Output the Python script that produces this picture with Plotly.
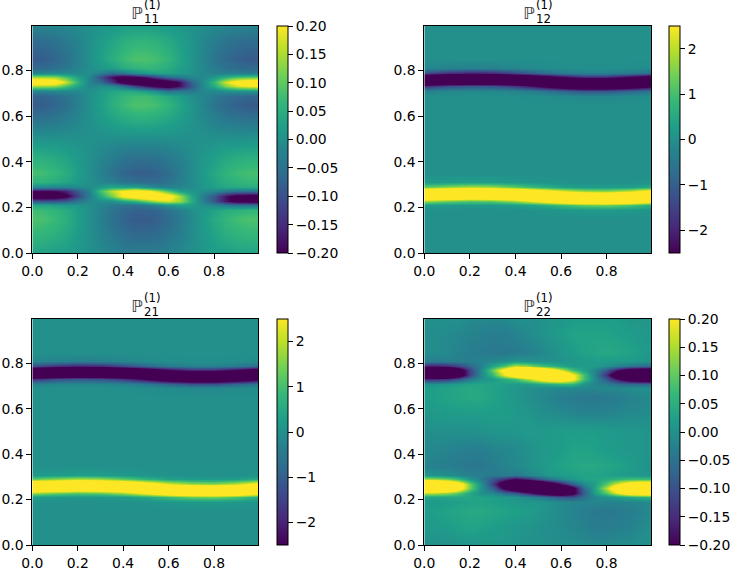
import plotly.graph_objects as go

# grid coordinates (cell centres)
X21 = [0.0, 0.05, 0.1, 0.15, 0.2, 0.25, 0.3, 0.35, 0.4, 0.45, 0.5,
       0.55, 0.6, 0.65, 0.7, 0.75, 0.8, 0.85, 0.9, 0.95, 1.0]
X11 = [0.0, 0.1, 0.2, 0.3, 0.4, 0.5, 0.6, 0.7, 0.8, 0.9, 1.0]
Y = [0.0, 0.07, 0.15, 0.19, 0.21, 0.23, 0.25, 0.27, 0.29, 0.31, 0.35, 0.42, 0.5,
     0.58, 0.65, 0.69, 0.71, 0.73, 0.75, 0.77, 0.79, 0.81, 0.85, 0.93, 1.0]

# P11, rows follow Y, columns follow X21
P11 = [
    [0.03, 0.03, 0.02, 0.02, 0.01, 0.0, -0.01, -0.02, -0.03, -0.03, -0.03, -0.03, -0.02, -0.01, 0.0, 0.01, 0.02, 0.02, 0.03, 0.03, 0.03],
    [0.06, 0.057, 0.048, 0.036, 0.018, 0.0, -0.018, -0.036, -0.051, -0.06, -0.06, -0.054, -0.042, -0.024, -0.006, 0.012, 0.03, 0.045, 0.054, 0.06, 0.06],
    [0.085, 0.081, 0.068, 0.051, 0.026, 0.0, -0.026, -0.051, -0.072, -0.085, -0.085, -0.077, -0.06, -0.034, -0.009, 0.017, 0.043, 0.064, 0.077, 0.085, 0.085],
    [0.075, 0.071, 0.06, 0.045, 0.023, 0.0, -0.023, -0.045, -0.064, -0.075, -0.075, -0.068, -0.048, -0.024, -0.003, 0.013, 0.032, 0.046, 0.055, 0.061, 0.061],
    [0.038, 0.035, 0.026, 0.018, 0.009, -0.002, -0.018, -0.036, -0.045, -0.053, -0.039, -0.02, 0.007, 0.025, 0.02, 0.0, -0.012, -0.031, -0.043, -0.044, -0.044],
    [-0.093, -0.096, -0.096, -0.081, -0.045, -0.014, -0.001, 0.0, 0.04, 0.06, 0.11, 0.16, 0.18, 0.14, 0.052, -0.023, -0.093, -0.175, -0.228, -0.239, -0.239],
    [-0.27, -0.273, -0.262, -0.216, -0.118, -0.029, 0.042, 0.12, 0.21, 0.26, 0.3, 0.29, 0.24, 0.14, 0.039, -0.023, -0.093, -0.175, -0.228, -0.239, -0.239],
    [-0.195, -0.198, -0.192, -0.159, -0.087, -0.023, 0.08, 0.16, 0.21, 0.25, 0.22, 0.16, 0.09, 0.027, 0.007, -0.001, -0.015, -0.035, -0.048, -0.049, -0.049],
    [-0.011, -0.014, -0.019, -0.019, -0.011, -0.006, 0.018, 0.041, 0.029, 0.036, 0.007, -0.015, -0.022, -0.018, -0.005, 0.01, 0.024, 0.035, 0.041, 0.046, 0.046],
    [0.058, 0.055, 0.046, 0.034, 0.017, 0.0, -0.014, -0.025, -0.045, -0.053, -0.059, -0.059, -0.046, -0.026, -0.007, 0.013, 0.033, 0.049, 0.059, 0.065, 0.065],
    [0.08, 0.076, 0.064, 0.048, 0.024, 0.0, -0.024, -0.048, -0.068, -0.08, -0.08, -0.072, -0.056, -0.032, -0.008, 0.016, 0.04, 0.06, 0.072, 0.08, 0.08],
    [0.05, 0.048, 0.04, 0.03, 0.015, 0.0, -0.015, -0.03, -0.043, -0.05, -0.05, -0.045, -0.035, -0.02, -0.005, 0.01, 0.025, 0.038, 0.045, 0.05, 0.05],
    [0.005, 0.005, 0.004, 0.003, 0.002, 0.0, -0.002, -0.003, -0.004, -0.005, -0.005, -0.004, -0.003, -0.002, 0.0, 0.001, 0.002, 0.003, 0.004, 0.005, 0.005],
    [-0.045, -0.043, -0.036, -0.027, -0.014, 0.0, 0.014, 0.027, 0.038, 0.045, 0.045, 0.041, 0.032, 0.018, 0.005, -0.009, -0.023, -0.034, -0.041, -0.045, -0.045],
    [-0.085, -0.081, -0.068, -0.051, -0.026, 0.0, 0.026, 0.051, 0.072, 0.085, 0.085, 0.077, 0.06, 0.034, 0.009, -0.017, -0.043, -0.064, -0.077, -0.085, -0.085],
    [-0.075, -0.071, -0.06, -0.045, -0.023, 0.0, 0.023, 0.045, 0.064, 0.075, 0.075, 0.062, 0.042, 0.022, 0.0, -0.015, -0.036, -0.052, -0.062, -0.068, -0.068],
    [-0.021, -0.019, -0.013, -0.013, -0.01, -0.003, 0.018, 0.035, 0.044, 0.039, 0.022, -0.008, -0.044, -0.038, -0.038, -0.013, -0.012, -0.003, 0.004, 0.006, 0.009],
    [0.144, 0.141, 0.132, 0.084, 0.03, -0.012, -0.003, -0.006, -0.05, -0.11, -0.17, -0.22, -0.24, -0.18, -0.091, -0.012, 0.045, 0.12, 0.171, 0.195, 0.203],
    [0.28, 0.273, 0.252, 0.164, 0.062, -0.02, -0.057, -0.14, -0.24, -0.3, -0.32, -0.3, -0.25, -0.18, -0.069, -0.012, 0.067, 0.168, 0.237, 0.27, 0.28],
    [0.144, 0.141, 0.132, 0.084, 0.03, -0.012, -0.1, -0.19, -0.24, -0.22, -0.17, -0.11, -0.06, -0.04, -0.015, -0.012, 0.015, 0.054, 0.081, 0.093, 0.098],
    [-0.016, -0.014, -0.009, -0.01, -0.008, -0.003, -0.027, -0.054, -0.039, -0.007, 0.017, 0.028, 0.031, 0.016, 0.004, -0.012, -0.022, -0.027, -0.03, -0.033, -0.032],
    [-0.065, -0.062, -0.052, -0.039, -0.02, 0.0, 0.012, 0.023, 0.044, 0.059, 0.065, 0.059, 0.046, 0.026, 0.007, -0.013, -0.033, -0.049, -0.059, -0.065, -0.065],
    [-0.085, -0.081, -0.068, -0.051, -0.026, 0.0, 0.026, 0.051, 0.072, 0.085, 0.085, 0.077, 0.06, 0.034, 0.009, -0.017, -0.043, -0.064, -0.077, -0.085, -0.085],
    [-0.06, -0.057, -0.048, -0.036, -0.018, 0.0, 0.018, 0.036, 0.051, 0.06, 0.06, 0.054, 0.042, 0.024, 0.006, -0.012, -0.03, -0.045, -0.054, -0.06, -0.06],
    [-0.02, -0.019, -0.016, -0.012, -0.006, 0.0, 0.006, 0.012, 0.017, 0.02, 0.02, 0.018, 0.014, 0.008, 0.002, -0.004, -0.01, -0.015, -0.018, -0.02, -0.02],
]

# P12, rows follow Y, columns follow X11
P12 = [
    [0.0, 0.0, 0.0, 0.0, 0.0, 0.0, 0.0, 0.0, 0.0, 0.0, 0.0],
    [0.0, 0.0, 0.0, 0.0, 0.0, 0.0, 0.0, 0.0, 0.0, 0.0, 0.0],
    [0.0, 0.0, 0.0, 0.0, 0.0, 0.0, 0.0, 0.0, 0.0, 0.0, 0.0],
    [0.01, 0.0, 0.0, 0.0, 0.01, 0.05, 0.12, 0.17, 0.19, 0.14, 0.06],
    [0.26, 0.19, 0.16, 0.17, 0.26, 0.5, 0.92, 1.3, 1.4, 1.1, 0.6],
    [1.78, 1.4, 1.2, 1.3, 1.78, 2.68, 3.64, 4.22, 4.36, 3.94, 3.0],
    [4.66, 4.36, 4.08, 4.22, 4.66, 4.96, 4.92, 4.66, 4.58, 4.82, 5.0],
    [4.22, 4.58, 4.74, 4.66, 4.22, 3.32, 2.36, 1.78, 1.64, 2.06, 3.0],
    [1.3, 1.64, 1.92, 1.78, 1.3, 0.76, 0.4, 0.26, 0.23, 0.32, 0.6],
    [0.17, 0.23, 0.29, 0.26, 0.17, 0.09, 0.04, 0.01, 0.01, 0.02, 0.06],
    [0.0, 0.0, 0.0, 0.0, 0.0, 0.0, 0.0, 0.0, 0.0, 0.0, 0.0],
    [0.0, 0.0, 0.0, 0.0, 0.0, 0.0, 0.0, 0.0, 0.0, 0.0, 0.0],
    [0.0, 0.0, 0.0, 0.0, 0.0, 0.0, 0.0, 0.0, 0.0, 0.0, 0.0],
    [0.0, 0.0, 0.0, 0.0, 0.0, 0.0, 0.0, 0.0, 0.0, 0.0, 0.0],
    [0.0, 0.0, 0.0, 0.0, 0.0, 0.0, 0.0, 0.0, 0.0, 0.0, 0.0],
    [-0.01, 0.0, 0.0, 0.0, -0.01, -0.04, -0.1, -0.16, -0.16, -0.1, -0.05],
    [-0.26, -0.17, -0.14, -0.16, -0.23, -0.45, -0.84, -1.2, -1.2, -0.84, -0.5],
    [-1.78, -1.3, -1.1, -1.2, -1.64, -2.52, -3.48, -4.08, -4.08, -3.48, -2.68],
    [-4.66, -4.22, -3.94, -4.08, -4.58, -4.94, -4.94, -4.74, -4.74, -4.94, -4.96],
    [-4.22, -4.66, -4.82, -4.74, -4.36, -3.48, -2.52, -1.92, -1.92, -2.52, -3.32],
    [-1.3, -1.78, -2.06, -1.92, -1.4, -0.84, -0.45, -0.29, -0.29, -0.45, -0.76],
    [-0.17, -0.26, -0.32, -0.29, -0.19, -0.1, -0.04, -0.02, -0.02, -0.04, -0.09],
    [0.0, 0.0, 0.0, 0.0, 0.0, 0.0, 0.0, 0.0, 0.0, 0.0, 0.0],
    [0.0, 0.0, 0.0, 0.0, 0.0, 0.0, 0.0, 0.0, 0.0, 0.0, 0.0],
    [0.0, 0.0, 0.0, 0.0, 0.0, 0.0, 0.0, 0.0, 0.0, 0.0, 0.0],
]

# P21 reads the same as P12 in the picture
P21 = P12

# P22, rows follow Y, columns follow X21
P22 = [
    [0.0, 0.0, 0.0, 0.005, 0.005, 0.01, 0.01, 0.01, 0.005, 0.0, 0.0, 0.0, -0.005, -0.005, -0.01, -0.01, -0.01, -0.005, -0.005, 0.0, 0.0],
    [0.01, 0.015, 0.02, 0.025, 0.03, 0.025, 0.02, 0.015, 0.01, 0.005, 0.0, -0.005, -0.01, -0.015, -0.02, -0.03, -0.03, -0.025, -0.02, -0.01, 0.0],
    [0.02, 0.025, 0.03, 0.035, 0.04, 0.04, 0.035, 0.03, 0.025, 0.02, 0.01, 0.0, -0.01, -0.02, -0.03, -0.04, -0.04, -0.035, -0.03, -0.02, -0.01],
    [0.01, 0.015, 0.02, 0.025, 0.03, 0.03, 0.025, 0.02, 0.015, 0.01, 0.01, 0.005, -0.008, -0.016, -0.018, -0.015, -0.02, -0.02, -0.02, -0.015, -0.01],
    [0.03, 0.034, 0.037, 0.037, 0.035, 0.03, 0.025, 0.014, 0.006, -0.011, -0.032, -0.06, -0.088, -0.095, -0.055, -0.011, 0.0, 0.022, 0.039, 0.05, 0.058],
    [0.16, 0.154, 0.134, 0.096, 0.038, 0.0, -0.013, -0.058, -0.087, -0.158, -0.224, -0.29, -0.305, -0.236, -0.087, 0.026, 0.093, 0.192, 0.267, 0.297, 0.309],
    [0.44, 0.422, 0.37, 0.264, 0.106, 0.0, -0.069, -0.22, -0.33, -0.45, -0.494, -0.49, -0.397, -0.236, -0.065, 0.038, 0.153, 0.32, 0.447, 0.497, 0.517],
    [0.44, 0.422, 0.37, 0.264, 0.106, 0.0, -0.117, -0.286, -0.429, -0.45, -0.38, -0.29, -0.179, -0.08, -0.011, 0.026, 0.093, 0.192, 0.267, 0.297, 0.309],
    [0.15, 0.139, 0.114, 0.071, 0.008, -0.03, -0.092, -0.145, -0.203, -0.161, -0.099, -0.05, -0.014, 0.014, 0.028, 0.034, 0.045, 0.062, 0.074, 0.075, 0.073],
    [0.01, 0.004, -0.003, -0.013, -0.025, -0.03, -0.036, -0.034, -0.036, -0.016, 0.0, 0.015, 0.02, 0.025, 0.03, 0.03, 0.025, 0.02, 0.015, 0.01, 0.005],
    [-0.02, -0.025, -0.03, -0.035, -0.04, -0.04, -0.03, -0.02, -0.01, 0.0, 0.01, 0.02, 0.03, 0.035, 0.04, 0.04, 0.035, 0.03, 0.02, 0.01, 0.0],
    [-0.01, -0.015, -0.02, -0.025, -0.03, -0.03, -0.02, -0.015, -0.01, 0.0, 0.01, 0.015, 0.02, 0.03, 0.03, 0.025, 0.02, 0.015, 0.01, 0.01, 0.005],
    [-0.005, 0.0, 0.0, 0.0, 0.0, 0.005, 0.01, 0.01, 0.01, 0.015, 0.015, 0.015, 0.02, 0.02, 0.02, 0.02, 0.015, 0.015, 0.01, 0.01, 0.005],
    [0.01, 0.015, 0.02, 0.02, 0.02, 0.02, 0.02, 0.02, 0.015, 0.01, 0.0, -0.005, -0.01, -0.015, -0.02, -0.02, -0.02, -0.015, -0.01, -0.01, -0.005],
    [0.02, 0.025, 0.03, 0.035, 0.04, 0.04, 0.03, 0.02, 0.01, 0.0, -0.01, -0.02, -0.03, -0.035, -0.04, -0.04, -0.035, -0.03, -0.02, -0.015, -0.01],
    [0.02, 0.025, 0.03, 0.035, 0.04, 0.035, 0.03, 0.02, 0.01, 0.0, -0.005, -0.01, -0.012, -0.01, -0.016, -0.015, -0.01, -0.01, -0.005, 0.0, 0.0],
    [0.0, 0.005, 0.012, 0.022, 0.034, 0.034, 0.03, 0.025, 0.018, 0.019, 0.035, 0.052, 0.064, 0.063, 0.012, -0.019, -0.03, -0.052, -0.064, -0.065, -0.068],
    [-0.152, -0.152, -0.134, -0.092, -0.035, 0.002, 0.016, 0.05, 0.079, 0.146, 0.217, 0.283, 0.292, 0.224, 0.085, -0.015, -0.085, -0.187, -0.265, -0.295, -0.309],
    [-0.432, -0.432, -0.386, -0.272, -0.113, -0.01, 0.063, 0.185, 0.295, 0.414, 0.477, 0.475, 0.38, 0.224, 0.085, -0.027, -0.145, -0.315, -0.445, -0.495, -0.517],
    [-0.432, -0.432, -0.386, -0.272, -0.113, -0.01, 0.103, 0.24, 0.383, 0.414, 0.367, 0.283, 0.172, 0.078, 0.029, -0.015, -0.085, -0.187, -0.265, -0.295, -0.309],
    [-0.165, -0.17, -0.154, -0.117, -0.065, -0.026, 0.035, 0.088, 0.16, 0.139, 0.095, 0.062, 0.037, 0.02, 0.019, 0.016, 0.0, -0.022, -0.044, -0.055, -0.063],
    [-0.025, -0.03, -0.028, -0.028, -0.026, -0.021, -0.012, -0.005, 0.012, 0.004, 0.0, 0.0, 0.005, 0.01, 0.015, 0.02, 0.02, 0.02, 0.015, 0.01, 0.005],
    [0.0, -0.005, -0.01, -0.02, -0.03, -0.035, -0.04, -0.04, -0.035, -0.025, -0.015, -0.005, 0.01, 0.02, 0.03, 0.035, 0.04, 0.035, 0.03, 0.02, 0.01],
    [0.0, -0.005, -0.01, -0.015, -0.02, -0.025, -0.03, -0.03, -0.02, -0.01, 0.0, 0.01, 0.02, 0.03, 0.03, 0.03, 0.03, 0.025, 0.02, 0.015, 0.01],
    [0.0, 0.0, 0.0, 0.0, -0.01, -0.01, -0.01, -0.01, 0.0, 0.0, 0.0, 0.01, 0.01, 0.02, 0.02, 0.02, 0.02, 0.02, 0.01, 0.01, 0.01],
]

SMALL_TICKS = [-0.2, -0.15, -0.1, -0.05, 0.0, 0.05, 0.1, 0.15, 0.2]
SMALL_LABELS = ["\u22120.20", "\u22120.15", "\u22120.10", "\u22120.05", "0.00", "0.05", "0.10", "0.15", "0.20"]
BIG_TICKS = [-2, -1, 0, 1, 2]
BIG_LABELS = ["\u22122", "\u22121", "0", "1", "2"]
AXIS_TICKS = [0.0, 0.2, 0.4, 0.6, 0.8]
AXIS_LABELS = ["0.0", "0.2", "0.4", "0.6", "0.8"]

W, H = 731, 569
FONT = "DejaVu Sans"
FS = 13.9

# (z, x, subscript, colour limit, ticks, labels, left, right, top, bottom, colorbar left) in px
panels = [
    (P11, X21, "11", 0.2, SMALL_TICKS, SMALL_LABELS, 32.3, 258.3, 26, 253, 276.7),
    (P12, X11, "12", 2.5, BIG_TICKS, BIG_LABELS, 424.3, 651, 26, 253, 668.7),
    (P21, X11, "21", 2.5, BIG_TICKS, BIG_LABELS, 32.3, 258.3, 319, 545, 276.7),
    (P22, X21, "22", 0.2, SMALL_TICKS, SMALL_LABELS, 424.3, 651, 319, 545, 668.7),
]


def px(v):
    return v / W


def py(v):
    return 1 - v / H


fig = go.Figure()
annotations = []
for i, (z, xs, sub, lim, tv, tt, l, r, t, b, cbl) in enumerate(panels):
    n = "" if i == 0 else str(i + 1)
    fig.add_trace(go.Heatmap(
        x=xs, y=Y, z=z, zmin=-lim, zmax=lim, colorscale="Viridis", zsmooth="best",
        xaxis="x" + n, yaxis="y" + n, hoverinfo="skip",
        colorbar=dict(
            x=px(cbl), xanchor="left", xpad=0, ypad=0,
            y=py((t + b) / 2), yanchor="middle", len=(b - t) / H, lenmode="fraction",
            thickness=10.6, thicknessmode="pixels",
            outlinewidth=1, outlinecolor="black",
            ticks="outside", ticklen=4.9, tickwidth=1.1, tickcolor="black",
            tickvals=tv, ticktext=tt, tickfont=dict(family=FONT, size=FS, color="black"),
        ),
    ))
    ax = dict(
        range=[0, 0.995], showgrid=False, zeroline=False, showline=True, linecolor="black",
        linewidth=1.1, mirror=True, ticks="outside", ticklen=4.9, tickwidth=1.1, tickcolor="black",
        tickvals=AXIS_TICKS, ticktext=AXIS_LABELS, tickfont=dict(family=FONT, size=FS, color="black"),
    )
    fig.layout["xaxis" + n] = dict(ax, domain=[px(l), px(r)], anchor="y" + n)
    fig.layout["yaxis" + n] = dict(ax, domain=[py(b), py(t)], anchor="x" + n)

    cx = (l + r) / 2
    annotations.append(dict(text="\u2119", x=px(cx - 8.5), y=py(t - 13.5),
                            font=dict(family=FONT, size=16.7, color="#333333")))
    annotations.append(dict(text="(1)", x=px(cx + 7), y=py(t - 21),
                            font=dict(family=FONT, size=11.7, color="black")))
    annotations.append(dict(text=sub, x=px(cx + 6), y=py(t - 7.5),
                            font=dict(family=FONT, size=11.7, color="black")))

for a in annotations:
    a.update(xref="paper", yref="paper", xanchor="center", yanchor="middle", showarrow=False)

fig.update_layout(
    width=W, height=H, margin=dict(l=0, r=0, t=0, b=0, autoexpand=False),
    paper_bgcolor="white", plot_bgcolor="white", showlegend=False,
    annotations=annotations,
)
# drop the default page margin so the figure starts at the window's corner
fig.write_html("out.html", config={"displayModeBar": False},
               post_script="document.body.style.margin='0';document.body.style.overflow='hidden';")
